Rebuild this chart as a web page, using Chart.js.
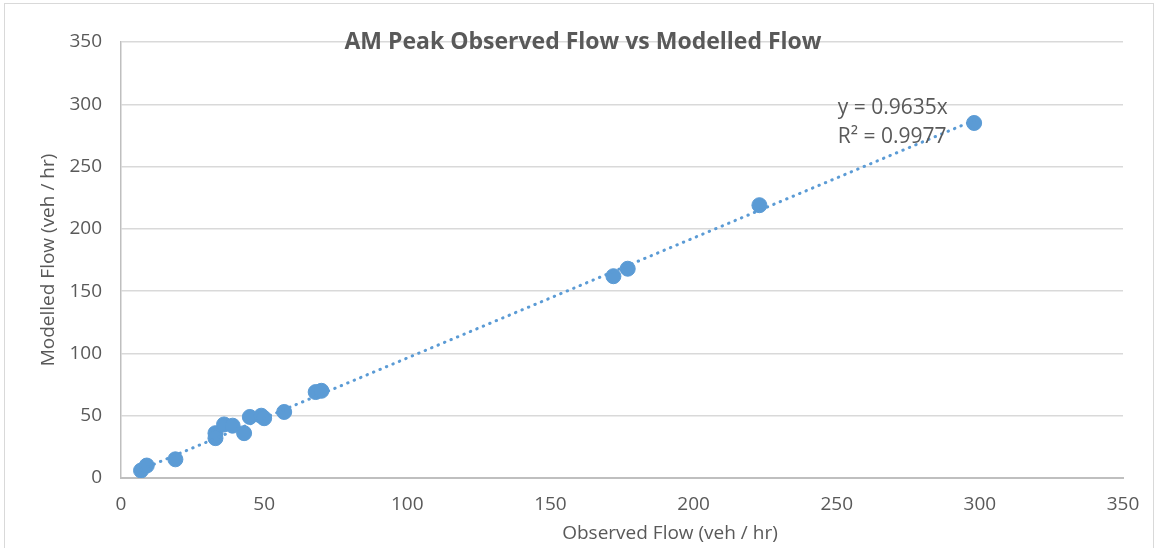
<!DOCTYPE html>
<html>
<head>
<meta charset="utf-8">
<script src="https://cdn.jsdelivr.net/npm/chart.js@4/dist/chart.umd.min.js"></script>
<style>
  html, body { margin: 0; padding: 0; background: #fff; }
</style>
</head>
<body>
<canvas id="grafica" width="1157" height="548"></canvas>
<script>
// datos
const observado = [7, 9, 19, 33, 33, 36, 39, 43, 45, 49, 50, 57, 68, 70, 172, 177, 223, 298];
const modelado = [6, 10, 15, 36, 32, 43, 42, 36, 49, 50, 48, 53, 69, 70, 162, 168, 219, 285];
const ticksEje = [0, 50, 100, 150, 200, 250, 300, 350];
const pendiente = 0.9635;
const r2 = 0.9977;
const tendenciaX = [7, 298];

const titulo = 'AM Peak Observed Flow vs Modelled Flow';
const tituloX = 'Observed Flow (veh / hr)';
const tituloY = 'Modelled Flow (veh / hr)';

const gris = '#595959';
const azul = '#5b9bd5';
const fuente = '"Open Sans", sans-serif';

const puntos = observado.map((x, i) => ({ x: x, y: modelado[i] }));
const tendencia = tendenciaX.map(x => ({ x: x, y: x * pendiente }));

// textos y marco estilo excel
const textos = {
  id: 'textos',
  beforeDraw(chart) {
    const ctx = chart.ctx;
    ctx.save();
    ctx.fillStyle = '#fff';
    ctx.fillRect(0, 0, chart.width, chart.height);
    ctx.strokeStyle = '#d9d9d9';
    ctx.lineWidth = 1;
    ctx.strokeRect(4.5, 3.5, 1149, 600);
    ctx.restore();
  },
  afterDraw(chart) {
    const ctx = chart.ctx;
    const area = chart.chartArea;
    const sx = chart.scales.x, sy = chart.scales.y;
    ctx.save();
    ctx.fillStyle = gris;
    ctx.textAlign = 'center';
    ctx.textBaseline = 'middle';
    ctx.font = 'bold 23px ' + fuente;
    ctx.fillText(titulo, 583, 42);
    ctx.font = '19px ' + fuente;
    ctx.fillText(tituloX, 670, 534);
    ctx.save();
    ctx.translate(49, (area.top + area.bottom) / 2);
    ctx.rotate(-Math.PI / 2);
    ctx.fillText(tituloY, 0, 0);
    ctx.restore();
    ctx.textAlign = 'left';
    ctx.font = '21px ' + fuente;
    const lx = sx.getPixelForValue(250.4);
    ctx.fillText('y = ' + pendiente + 'x', lx, sy.getPixelForValue(297));
    ctx.fillText('R² = ' + r2, lx, sy.getPixelForValue(273.5));
    ctx.restore();
  }
};

new Chart(document.getElementById('grafica'), {
  type: 'scatter',
  data: {
    datasets: [{
      data: tendencia,
      type: 'line',
      showLine: true,
      borderColor: azul,
      borderWidth: 3,
      borderDash: [0.5, 6.5],
      borderCapStyle: 'round',
      pointRadius: 0,
      fill: false,
      order: 0
    }, {
      data: puntos,
      backgroundColor: azul,
      borderColor: azul,
      pointRadius: 7.5,
      pointHoverRadius: 7.5,
      order: 1
    }]
  },
  plugins: [textos],
  options: {
    responsive: false,
    animation: false,
    devicePixelRatio: 1,
    layout: { padding: { top: 42, right: 34, left: 0, bottom: 0 } },
    plugins: { legend: { display: false }, tooltip: { enabled: false } },
    scales: {
      x: {
        type: 'linear',
        min: 0, max: 350,
        afterBuildTicks: s => { s.ticks = ticksEje.map(v => ({ value: v })); },
        afterFit: s => { s.height = 70; },
        grid: { display: false, drawTicks: false },
        border: { display: true, color: '#bfbfbf', width: 2 },
        ticks: { color: gris, font: { family: fuente, size: 19 }, padding: 15, maxRotation: 0 }
      },
      y: {
        type: 'linear',
        min: 0, max: 350,
        afterBuildTicks: s => { s.ticks = ticksEje.map(v => ({ value: v })); },
        afterFit: s => { s.width = 121; },
        grid: { color: '#d9d9d9', lineWidth: 1.5, drawTicks: false },
        border: { display: true, color: '#bfbfbf', width: 1.5 },
        ticks: { color: gris, font: { family: fuente, size: 19 }, padding: 19 }
      }
    }
  }
});
</script>
</body>
</html>
